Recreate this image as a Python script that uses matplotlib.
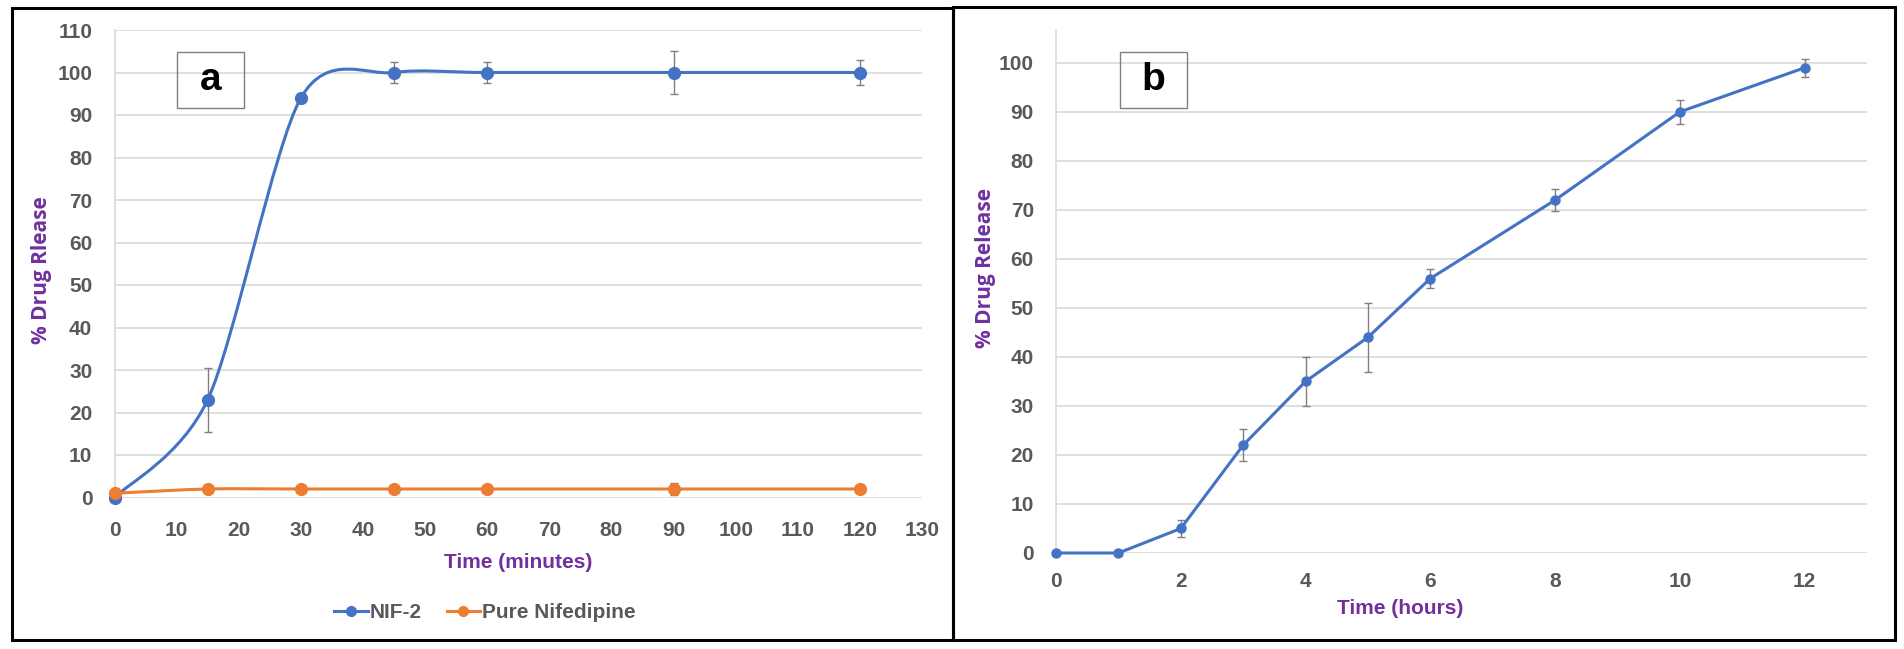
import numpy as np
import matplotlib
matplotlib.use("Agg")
import matplotlib.pyplot as plt
from matplotlib.path import Path
from matplotlib.patches import PathPatch, Rectangle
from matplotlib.lines import Line2D

# ---------------- data ----------------
time_min = [0, 15, 30, 45, 60, 90, 120]
nif2 = [0, 23, 94, 100, 100, 100, 100]
nif2_err = [0, 7.5, 0, 2.5, 2.5, 5, 3]
pure = [1, 2, 2, 2, 2, 2, 2]
pure_err = [0, 0.4, 0.4, 0.4, 0.4, 1.5, 0.8]

time_h = [0, 1, 2, 3, 4, 5, 6, 8, 10, 12]
rel_b = [0, 0, 5, 22, 35, 44, 56, 72, 90, 99]
rel_b_err = [0, 0, 1.8, 3.3, 5, 7, 2, 2.2, 2.5, 1.8]

xticks_a = list(range(0, 131, 10))
yticks_a = list(range(0, 111, 10))
xticks_b = [0, 2, 4, 6, 8, 10, 12]
yticks_b = list(range(0, 101, 10))

BLUE = "#4472C4"
ORANGE = "#ED7D31"
PURPLE = "#7030A0"
TICK = "#595959"
GRID = "#D9D9D9"
ERR = "#7F7F7F"
TFONT = ["Liberation Sans Narrow", "Liberation Sans", "DejaVu Sans"]
LFONT = ["Open Sans", "DejaVu Sans"]

W, H = 1904, 649
fig = plt.figure(figsize=(W / 100, H / 100), dpi=100)


def px_axes(x0, x1, ytop, ybot):
    return fig.add_axes([x0 / W, 1 - ybot / H, (x1 - x0) / W, (ybot - ytop) / H])


def smooth_path(x, y, k=1 / 7):
    pts = np.column_stack([x, y]).astype(float)
    n = len(pts)
    verts = [pts[0]]
    codes = [Path.MOVETO]
    for i in range(n - 1):
        p0 = pts[max(i - 1, 0)]
        p1 = pts[i]
        p2 = pts[i + 1]
        p3 = pts[min(i + 2, n - 1)]
        c1 = p1 + (p2 - p0) * k
        c2 = p2 - (p3 - p1) * k
        verts += [c1, c2, p2]
        codes += [Path.CURVE4] * 3
    return Path(verts, codes)


def style(ax, xt, yt, xlim, ylim, xpad, ypad):
    ax.set_xlim(*xlim)
    ax.set_ylim(*ylim)
    ax.set_xticks(xt)
    ax.set_yticks(yt)
    for s in ["top", "right", "bottom"]:
        ax.spines[s].set_visible(False)
    ax.spines["left"].set_color(GRID)
    ax.spines["left"].set_linewidth(1.2)
    ax.grid(axis="y", color=GRID, linewidth=1.2)
    ax.set_axisbelow(True)
    ax.tick_params(length=0, colors=TICK)
    ax.tick_params(axis="x", pad=xpad)
    ax.tick_params(axis="y", pad=ypad)
    for lab in ax.get_xticklabels() + ax.get_yticklabels():
        lab.set_fontfamily(TFONT)
        lab.set_fontweight("bold")
        lab.set_fontsize(15)
        lab.set_color(TICK)


# ---------------- panel a ----------------
axa = px_axes(114.5, 922, 30, 497.5)
style(axa, xticks_a, yticks_a, (0, 130), (0, 110), 17, 16)
axa.add_patch(PathPatch(smooth_path(time_min, nif2), fill=False,
                        edgecolor=BLUE, lw=2.2, clip_on=False, zorder=3))
axa.errorbar(time_min, nif2, yerr=nif2_err, fmt="o", color=BLUE, ms=8.5,
             ecolor=ERR, elinewidth=1, capsize=3, capthick=1, zorder=4,
             clip_on=False)
axa.add_patch(PathPatch(smooth_path(time_min, pure), fill=False,
                        edgecolor=ORANGE, lw=2.2, clip_on=False, zorder=5))
axa.errorbar(time_min, pure, yerr=pure_err, fmt="o", color=ORANGE, ms=8.5,
             ecolor=ERR, elinewidth=1, capsize=3, capthick=1, zorder=6,
             clip_on=False)

fig.text(42 / W, 1 - 270 / H, "% Drug Rlease", rotation=90, ha="center",
         va="center", color=PURPLE, fontsize=15, fontweight="bold",
         family=LFONT)
fig.text(518 / W, 1 - 563 / H, "Time (minutes)", ha="center", va="center",
         color=PURPLE, fontsize=15, fontweight="bold", family=TFONT)

handles = [Line2D([], [], color=BLUE, lw=2.2, marker="o", ms=7),
           Line2D([], [], color=ORANGE, lw=2.2, marker="o", ms=7)]
leg = fig.legend(handles, ["NIF-2", "Pure Nifedipine"], loc="center",
                 bbox_to_anchor=(485 / W, 1 - 613 / H), ncol=2, frameon=False,
                 handlelength=1.6, handletextpad=0.1, columnspacing=1.2,
                 prop={"family": TFONT, "weight": "bold", "size": 15})
for t in leg.get_texts():
    t.set_color(TICK)

# ---------------- panel b ----------------
axb = px_axes(1056, 1867, 30, 553)
style(axb, xticks_b, yticks_b, (0, 13), (0, 106.7), 14, 16)
axb.errorbar(time_h, rel_b, yerr=rel_b_err, fmt="-o", color=BLUE, lw=2.2,
             ms=6.5, ecolor=ERR, elinewidth=1, capsize=3, capthick=1,
             zorder=4, clip_on=False)

fig.text(985 / W, 1 - 268 / H, "% Drug Release", rotation=90, ha="center",
         va="center", color=PURPLE, fontsize=15, fontweight="bold",
         family=LFONT)
fig.text(1400 / W, 1 - 608 / H, "Time (hours)", ha="center", va="center",
         color=PURPLE, fontsize=15, fontweight="bold", family=TFONT)

# ---------------- label boxes ----------------
for (x0, x1, lab) in [(177, 244, "a"), (1120, 1187, "b")]:
    fig.add_artist(Rectangle((x0 / W, 1 - 108 / H), (x1 - x0) / W, 56 / H,
                             transform=fig.transFigure, fill=False,
                             edgecolor="#7F7F7F", lw=1))
    fig.text((x0 + x1) / 2 / W, 1 - 80 / H, lab, ha="center", va="center",
             fontsize=28, fontweight="bold", family=TFONT, color="black")

# ---------------- panel frames ----------------
for (x0, x1, y0, y1) in [(12, 953, 8, 640), (953, 1895, 7, 640)]:
    fig.add_artist(Rectangle((x0 / W, 1 - y1 / H), (x1 - x0) / W, (y1 - y0) / H,
                             transform=fig.transFigure, fill=False,
                             edgecolor="black", lw=2.2))

fig.savefig("out.png", dpi=100, facecolor="white")
